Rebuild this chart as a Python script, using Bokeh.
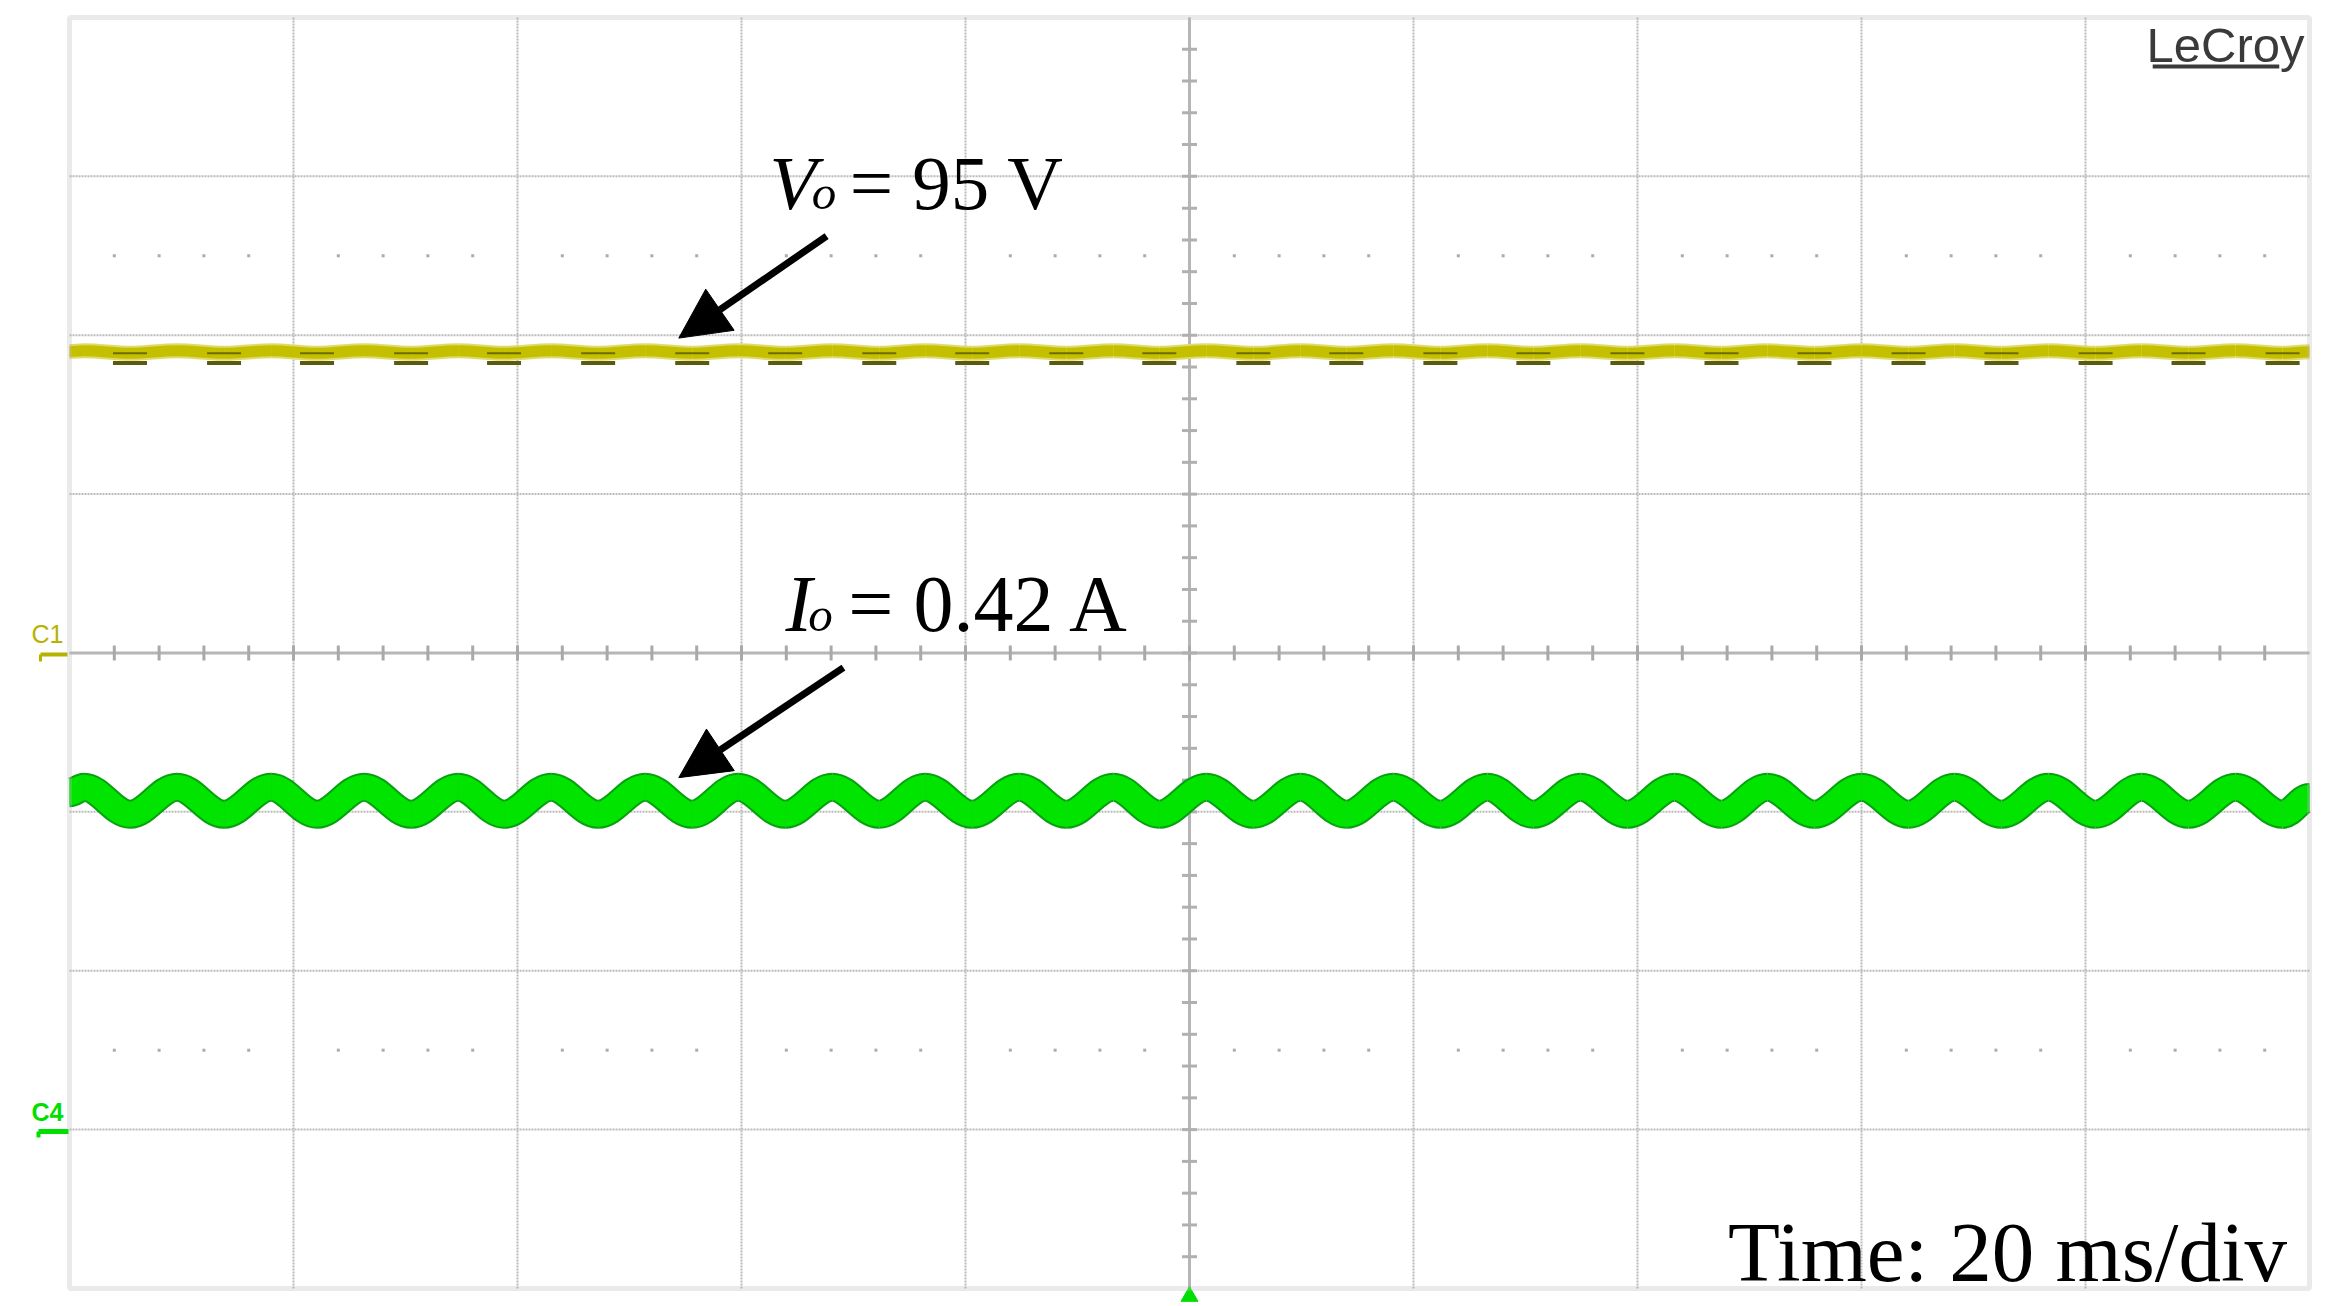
from bokeh.plotting import figure
from bokeh.models import Range1d, Label, Arrow, NormalHead, ColumnDataSource, BoxAnnotation
from bokeh.embed import file_html
from bokeh.resources import INLINE

# ---------------- data ----------------
# time of each extremum of the 120 Hz ripple (ms), plus the two screen edges
ripple_t_ms = [0.0, 1.3, 5.4, 9.6, 13.8, 18.0, 22.1, 26.3, 30.5, 34.7, 38.8, 43.0,
               47.2, 51.4, 55.6, 59.7, 63.9, 68.1, 72.3, 76.4, 80.6, 84.8, 89.0,
               93.2, 97.3, 101.5, 105.7, 109.9, 114.0, 118.2, 122.4, 126.6, 130.7,
               134.9, 139.1, 143.3, 147.5, 151.6, 155.8, 160.0, 164.2, 168.3, 172.5,
               176.7, 180.9, 185.0, 189.2, 193.4, 197.6, 200.0]
# output current Io (A) at those instants
io_a = [0.424, 0.431, 0.397, 0.431, 0.397, 0.431, 0.397, 0.431, 0.397, 0.431,
        0.397, 0.431, 0.397, 0.431, 0.397, 0.431, 0.397, 0.431, 0.397, 0.431,
        0.397, 0.431, 0.397, 0.431, 0.397, 0.431, 0.397, 0.431, 0.397, 0.431,
        0.397, 0.431, 0.397, 0.431, 0.397, 0.431, 0.397, 0.431, 0.397, 0.431,
        0.397, 0.431, 0.397, 0.431, 0.397, 0.431, 0.397, 0.431, 0.397, 0.418]
# output voltage Vo (V) at those instants
vo_v = [94.9, 95.1, 94.3, 95.1, 94.3, 95.1, 94.3, 95.1, 94.3, 95.1,
        94.3, 95.1, 94.3, 95.1, 94.3, 95.1, 94.3, 95.1, 94.3, 95.1,
        94.3, 95.1, 94.3, 95.1, 94.3, 95.1, 94.3, 95.1, 94.3, 95.1,
        94.3, 95.1, 94.3, 95.1, 94.3, 95.1, 94.3, 95.1, 94.3, 95.1,
        94.3, 95.1, 94.3, 95.1, 94.3, 95.1, 94.3, 95.1, 94.3, 94.8]

# scope settings: 20 ms/div (10 div), C1 50 V/div centred, C4 0.2 A/div offset -3 div
time_div_ticks = [0, 20, 40, 60, 80, 100, 120, 140, 160, 180, 200]
volt_div_ticks = [-200, -150, -100, -50, 0, 50, 100, 150, 200]

T0, T1 = time_div_ticks[0], time_div_ticks[-1]
V0, V1 = volt_div_ticks[0], volt_div_ticks[-1]
TC = time_div_ticks[5]
VC = volt_div_ticks[4]

# ---------------- figure (frame fills the canvas; screen = 0..200 ms x -200..200 V) ----------------
p = figure(width=2331, height=1304,
           x_range=Range1d(-6.161, 201.964), y_range=Range1d(-205.04, 205.35),
           x_axis_type=None, y_axis_type=None,
           output_backend="svg", toolbar_location=None,
           min_border_left=0, min_border_right=0,
           min_border_top=0, min_border_bottom=0)
p.extra_y_ranges = {"current": Range1d(-0.22014, 1.42140)}
p.background_fill_color = "white"
p.border_fill_color = "white"
p.outline_line_color = None

GRID = "#bababa"
# division grid (dotted)
p.multi_line(xs=[[t, t] for t in time_div_ticks[1:-1]],
             ys=[[V0, V1] for t in time_div_ticks[1:-1]],
             line_color=GRID, line_width=2, line_dash="2 1")
p.multi_line(xs=[[T0, T1] for v in volt_div_ticks[1:-1]],
             ys=[[v, v] for v in volt_div_ticks[1:-1]],
             line_color=GRID, line_width=2, line_dash="2 1")

# centre cross (solid) with minor ticks
p.segment(x0=[TC, T0], y0=[V0, VC], x1=[TC, T1], y1=[V1, VC],
          line_color="#b6b6b6", line_width=3)
minor_t = [t for t in range(4, 200, 4)]
minor_v = [v for v in range(-190, 200, 10)]
p.scatter(x=minor_t, y=[VC] * len(minor_t), marker="dash", angle=1.5708,
          size=15, line_width=3, line_color="#a9a9a9")
p.scatter(x=[TC] * len(minor_v), y=minor_v, marker="dash",
          size=15, line_width=3, line_color="#b0b0b0")
# half-division dot rows
dot_t = [t for t in range(4, 200, 4) if t % 20]
p.scatter(x=dot_t * 2, y=[125] * len(dot_t) + [-125] * len(dot_t), marker="square",
          size=3, line_color=None, fill_color="#acacac")

# screen border
p.add_layout(BoxAnnotation(left=T0, right=T1, bottom=V0, top=V1, fill_color=None,
                           line_color="#bababa", line_width=5))


def bezier_source(xs, ys):
    x0, x1, y0, y1, cx0, cx1 = [], [], [], [], [], []
    for k in range(len(xs) - 1):
        dt = xs[k + 1] - xs[k]
        x0.append(xs[k]); x1.append(xs[k + 1])
        y0.append(ys[k]); y1.append(ys[k + 1])
        cx0.append(xs[k] + 0.36 * dt); cx1.append(xs[k + 1] - 0.36 * dt)
    return ColumnDataSource(dict(x0=x0, y0=y0, x1=x1, y1=y1,
                                 cx0=cx0, cy0=y0, cx1=cx1, cy1=y1))


BZ = dict(x0="x0", y0="y0", x1="x1", y1="y1", cx0="cx0", cy0="cy0", cx1="cx1", cy1="cy1")

# C1: output voltage (yellow)
vsrc = bezier_source(ripple_t_ms, vo_v)
p.bezier(source=vsrc, line_color="#dedb6a", line_width=15, **BZ)
p.bezier(source=vsrc, line_color="#c4c000", line_width=11, **BZ)
trough_t = ripple_t_ms[2:-1:2]
trough_v = vo_v[2:-1:2]
p.scatter(x=trough_t, y=[v - 3.0 for v in trough_v], marker="dash", size=34,
          line_width=4, line_color="#5c5a10")
p.scatter(x=trough_t, y=trough_v, marker="dash", size=34,
          line_width=2, line_color="#6e6c00")

# C4: output current (green)
isrc = bezier_source(ripple_t_ms, io_a)
p.bezier(source=isrc, line_color="#08a010", line_width=29, y_range_name="current", **BZ)
p.bezier(source=isrc, line_color="#00e400", line_width=25, y_range_name="current", **BZ)

# ---------------- channel markers ----------------
C1_COL = "#b5b300"
C4_COL = "#00e000"
p.add_layout(Label(x=-3.39, y=5.82, text="C1", text_font="Liberation Sans",
                   text_font_size="25px", text_color=C1_COL,
                   text_baseline="alphabetic"))
p.add_layout(Arrow(end=None, x_start=-2.59, y_start=-0.47, x_end=-0.18, y_end=-0.47,
                   line_color=C1_COL, line_width=4))
p.add_layout(Arrow(end=None, x_start=-2.59, y_start=-0.47, x_end=-2.59, y_end=-2.7,
                   line_color=C1_COL, line_width=3))
p.add_layout(Label(x=-3.39, y=0.02156, y_range_name="current", text="C4",
                   text_font="Liberation Sans", text_font_style="bold",
                   text_font_size="25px", text_color=C4_COL,
                   text_baseline="alphabetic"))
p.add_layout(Arrow(end=None, x_start=-2.77, y_start=-0.0024, x_end=-0.09, y_end=-0.0024,
                   y_range_name="current", line_color=C4_COL, line_width=5))
p.add_layout(Arrow(end=None, x_start=-2.77, y_start=-0.0024, x_end=-2.77, y_end=-0.0099,
                   y_range_name="current", line_color=C4_COL, line_width=4))
# trigger marker below the screen centre
p.scatter(x=[TC], y=[-202.5], marker="triangle", size=17,
          line_color=C4_COL, fill_color=C4_COL)

# LeCroy logo
p.add_layout(Label(x=185.45, y=191.5, text="LeCroy", text_font="Liberation Sans",
                   text_font_size="49px", text_color="#3a3a3a",
                   text_baseline="alphabetic"))
p.add_layout(Arrow(end=None, x_start=186.0, y_start=184.6, x_end=197.3, y_end=184.6,
                   line_color="#3a3a3a", line_width=4))

# ---------------- annotations ----------------
SERIF = "Liberation Serif"
p.add_layout(Label(x=62.5, y=147.88, text="V", text_font=SERIF, text_font_style="italic",
                   text_font_size="77px", text_color="black", text_baseline="alphabetic"))
p.add_layout(Label(x=66.27, y=145.0, text="o", text_font=SERIF, text_font_style="italic",
                   text_font_size="49px", text_color="black", text_baseline="alphabetic"))
p.add_layout(Label(x=69.66, y=147.88, text="= 95 V", text_font=SERIF,
                   text_font_size="77px", text_color="black", text_baseline="alphabetic"))
p.add_layout(Arrow(end=NormalHead(size=50, fill_color="black", line_color="black"),
                   x_start=67.6, y_start=131.2, x_end=54.4, y_end=99.1,
                   line_color="black", line_width=7))

p.add_layout(Label(x=63.93, y=0.6615, y_range_name="current", text="I", text_font=SERIF,
                   text_font_style="italic", text_font_size="80px", text_color="black",
                   text_baseline="alphabetic"))
p.add_layout(Label(x=65.95, y=0.6487, y_range_name="current", text="o", text_font=SERIF,
                   text_font_style="italic", text_font_size="49px", text_color="black",
                   text_baseline="alphabetic"))
p.add_layout(Label(x=69.54, y=0.6615, y_range_name="current", text="= 0.42 A",
                   text_font=SERIF, text_font_size="80px", text_color="black",
                   text_baseline="alphabetic"))
p.add_layout(Arrow(end=NormalHead(size=50, fill_color="black", line_color="black"),
                   x_start=69.1, y_start=0.5816, x_end=54.4, y_end=0.4431,
                   y_range_name="current", line_color="black", line_width=7))

p.add_layout(Label(x=173.04, y=-188.67, text="Time: 20 ms/div", text_font=SERIF,
                   text_font_size="85px", text_color="black", text_align="center",
                   text_baseline="alphabetic"))

open("out.html", "w").write(file_html(p, INLINE))
